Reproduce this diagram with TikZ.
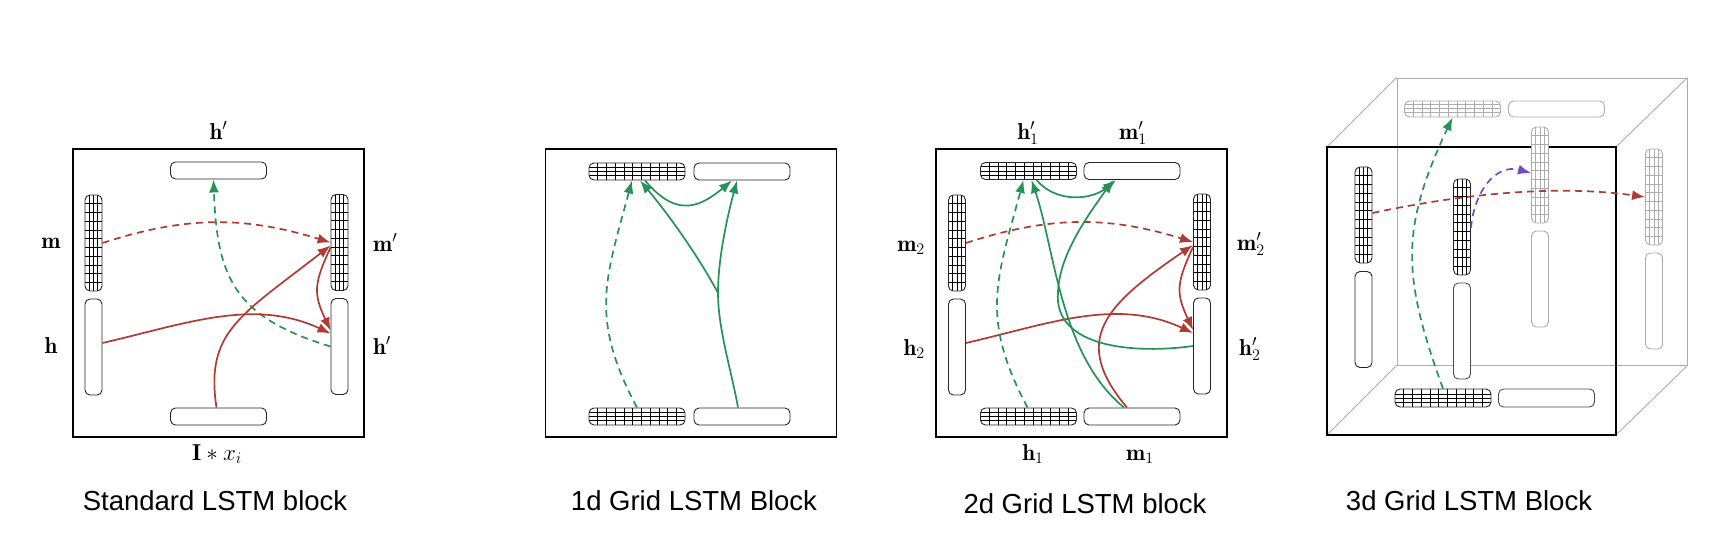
\RequirePackage{fix-cm}
\documentclass[tikz,border=0pt]{standalone}
\usepackage{fontspec}
\newfontfamily\capfont{Liberation Sans}
\usetikzlibrary{arrows.meta,calc}
\definecolor{redA}{RGB}{176,58,52}
\definecolor{greenA}{RGB}{38,146,88}
\definecolor{purpA}{RGB}{122,72,194}
\definecolor{grayL}{RGB}{172,172,172}
\tikzset{
  blk/.style={draw=black, line width=1.1pt, minimum width=291pt, minimum height=288pt, inner sep=0pt},
  bar/.style={draw=black!85, line width=0.9pt, rounded corners=5pt, fill=white, inner sep=0pt},
  hbar/.style={bar, minimum width=96pt, minimum height=17pt},
  vbar/.style={bar, minimum width=17pt, minimum height=96pt},
  ghost/.style={draw=grayL},
  gridv/.style={path picture={
     \foreach \k in {1,2,3}{\draw[line width=0.6pt,draw=#1] ([xshift=\k*4.25pt]path picture bounding box.south west) -- ([xshift=\k*4.25pt]path picture bounding box.north west);}
     \foreach \k in {1,...,10}{\draw[line width=0.6pt,draw=#1] ([yshift=\k*8.73pt]path picture bounding box.south west) -- ([yshift=\k*8.73pt]path picture bounding box.south east);}
  }},
  gridv/.default=black,
  gridh/.style={path picture={
     \foreach \k in {1,...,10}{\draw[line width=0.6pt,draw=#1] ([xshift=\k*8.73pt]path picture bounding box.south west) -- ([xshift=\k*8.73pt]path picture bounding box.north west);}
     \foreach \k in {1,2,3}{\draw[line width=0.6pt,draw=#1] ([yshift=\k*4.25pt]path picture bounding box.south west) -- ([yshift=\k*4.25pt]path picture bounding box.south east);}
  }},
  gridh/.default=black,
  lab/.style={font=\fontsize{23}{27}\selectfont, inner sep=0pt},
  captxt/.style={font=\capfont\fontsize{27.5}{32}\selectfont, inner sep=0pt, anchor=base},
  con/.style={line width=1.7pt, -{Latex[length=13pt,width=10pt]}},
  dsh/.style={dash pattern=on 7pt off 5pt},
  rd/.style={con, draw=redA},
  gr/.style={con, draw=greenA},
  pu/.style={con, draw=purpA},
  edge3d/.style={draw=grayL, line width=0.9pt},
}
\begin{document}
\begin{tikzpicture}[x=1pt,y=1pt]
\useasboundingbox (0,0) rectangle (1727,-552);

% ================= Panel 1: Standard LSTM block =================
\node[blk] (Abox) at (218.5,-293) {};
\node[hbar] (Atop) at (218.5,-170.5) {};
\node[hbar] (Abot) at (218.5,-416.5) {};
\node[vbar,gridv] (Am) at (93.5,-243) {};
\node[vbar] (Ah) at (93.5,-347) {};
\node[vbar,gridv] (Amp) at (339.5,-242.5) {};
\node[vbar] (Ahp) at (339.5,-346.5) {};

\node[lab,anchor=base] (AlTop) at (218.5,-139) {$\mathbf{h}'$};
\node[lab,anchor=base] (AlM) at (51,-248) {$\mathbf{m}$};
\node[lab,anchor=base] (AlH) at (51,-353) {$\mathbf{h}$};
\node[lab,anchor=base west] (AlMp) at (373,-251) {$\mathbf{m}'$};
\node[lab,anchor=base west] (AlHp) at (373,-354) {$\mathbf{h}'$};
\node[lab,anchor=base] (AlX) at (217,-460) {$\mathbf{I} * x_i$};

\draw[rd,dsh] (Am.east) to[out=18,in=163] (Amp.west);
\draw[gr,dsh] (Ahp.west) to[out=163,in=-88,looseness=1.25] ([xshift=-5pt]Atop.south);
\draw[rd] ([yshift=4pt]Ah.east) to[out=13,in=155,looseness=0.95] ([yshift=13pt]Ahp.west);
\draw[rd] ([xshift=-2pt]Abot.north) .. controls (205,-332) and (240,-316) .. ([yshift=-3pt]Amp.west);
\draw[rd] ([yshift=-5pt]Amp.west) to[out=-115,in=115,looseness=1.25] ([yshift=16pt]Ahp.west);

\node[captxt] (capA) at (215,-510) {Standard LSTM block};

% ================= Panel 2: 1d Grid LSTM Block =================
\node[blk] (Bbox) at (691,-293) {};
\node[hbar,gridh] (Btg) at (637,-171.5) {};
\node[hbar] (Btp) at (742,-171.5) {};
\node[hbar,gridh] (Bbg) at (637,-416.5) {};
\node[hbar] (Bbp) at (742,-416.5) {};
\coordinate (Bbr) at (718,-293);

\draw[gr,dsh] (Bbg.north) to[out=118,in=-105,looseness=1.15] ([xshift=-5pt]Btg.south);
\draw[line width=1.7pt,draw=greenA] ([xshift=-4pt]Bbp.north) to[out=100,in=-90,looseness=0.8] (Bbr);
\draw[gr] (Bbr) to[out=90,in=-105,looseness=0.8] ([xshift=-5pt]Btp.south);
\draw[gr] (Bbr) to[out=118,in=-50,looseness=0.8] ([xshift=3pt]Btg.south);
\draw[gr] ([xshift=8pt]Btg.south) to[out=-50,in=-140,looseness=1.35] ([xshift=-10pt]Btp.south);

\node[captxt] (capB) at (694,-510) {1d Grid LSTM Block};

% ================= Panel 3: 2d Grid LSTM block =================
\node[blk] (Cbox) at (1081.5,-293) {};
\node[hbar,gridh] (Ctg) at (1028.5,-171) {};
\node[hbar] (Ctp) at (1132,-171) {};
\node[hbar,gridh] (Cbg) at (1028.5,-416.5) {};
\node[hbar] (Cbp) at (1132,-416.5) {};
\node[vbar,gridv] (Cm2) at (957,-243) {};
\node[vbar] (Ch2) at (957,-347) {};
\node[vbar,gridv] (Cm2p) at (1202,-242) {};
\node[vbar] (Ch2p) at (1202,-346) {};
\coordinate (Cmg) at (1058,-292);

\node[lab,anchor=base] (ClH1p) at (1028,-139) {$\mathbf{h}'_1$};
\node[lab,anchor=base] (ClM1p) at (1133,-139) {$\mathbf{m}'_1$};
\node[lab,anchor=base east] (ClM2) at (925,-251) {$\mathbf{m}_2$};
\node[lab,anchor=base east] (ClH2) at (925,-355) {$\mathbf{h}_2$};
\node[lab,anchor=base west] (ClM2p) at (1237,-250) {$\mathbf{m}'_2$};
\node[lab,anchor=base west] (ClH2p) at (1239,-355) {$\mathbf{h}'_2$};
\node[lab,anchor=base] (ClH1) at (1033,-460) {$\mathbf{h}_1$};
\node[lab,anchor=base] (ClM1) at (1140,-460) {$\mathbf{m}_1$};

% red (dimension 2)
\draw[rd,dsh] (Cm2.east) to[out=18,in=163] (Cm2p.west);
\draw[rd] ([yshift=4pt]Ch2.east) to[out=13,in=155,looseness=0.95] ([yshift=13pt]Ch2p.west);
\draw[rd] ([xshift=-5pt]Cbp.north) .. controls (1070,-340) and (1105,-305) .. ([yshift=-3pt]Cm2p.west);
\draw[rd] ([yshift=-5pt]Cm2p.west) to[out=-115,in=115,looseness=1.25] ([yshift=16pt]Ch2p.west);
% green (dimension 1)
\draw[gr,dsh] ([xshift=-1pt]Cbg.north) to[out=118,in=-105,looseness=1.15] ([xshift=-5pt]Ctg.south);
\draw[gr] ([xshift=8pt]Ctg.south) to[out=-50,in=-140,looseness=1] ([xshift=-16pt]Ctp.south);
\draw[gr] ([xshift=-8pt]Cbp.north) .. controls (1060,-355) and (1055,-250) .. ([xshift=3pt]Ctg.south);
\draw[line width=1.7pt,draw=greenA] (Ch2p.west) to[out=188,in=-95,looseness=1] (Cmg);
\draw[gr] (Cmg) to[out=88,in=-125,looseness=0.8] ([xshift=-19pt]Ctp.south);

\node[captxt] (capC) at (1085,-513) {2d Grid LSTM block};

% ================= Panel 4: 3d Grid LSTM Block =================
\node[blk,draw=grayL,line width=0.9pt,minimum width=290pt,minimum height=287pt] (Dback) at (1542,-221.5) {};
\draw[edge3d] (Dback.north west) -- (1327,-147);
\draw[edge3d] (Dback.north east) -- (1616,-147);
\draw[edge3d] (Dback.south east) -- (1616,-435);
\draw[edge3d] (Dback.south west) -- (1327,-435);
\node[blk,minimum width=289pt,minimum height=288pt] (Dfront) at (1471.5,-291) {};

% back (gray) elements
\node[hbar,ghost,gridh=grayL,minimum height=16pt] (Dtg) at (1452.5,-109) {};
\node[hbar,ghost,minimum height=16pt] (Dtp) at (1556.5,-109) {};
\node[vbar,ghost,gridv=grayL] (Dvg) at (1540,-175) {};
\node[vbar,ghost] (Dvp) at (1540,-279) {};
\node[vbar,ghost,gridv=grayL] (Drg) at (1654,-197) {};
\node[vbar,ghost] (Drp) at (1654,-301) {};
% front elements
\node[vbar,gridv] (Dlg) at (1363.5,-215) {};
\node[vbar] (Dlp) at (1363.5,-319.5) {};
\node[vbar,gridv] (Dmg) at (1462,-227) {};
\node[vbar,draw=black!70] (Dmp) at (1462,-331) {};
\node[hbar,gridh,minimum height=18pt] (Dbg) at (1443,-398) {};
\node[hbar,draw=black!70,minimum height=18pt] (Dbp) at (1546.5,-398) {};

\draw[gr,dsh] (Dbg.north) to[out=110,in=-115,looseness=1.15] (Dtg.south);
\draw[rd,dsh] ([yshift=2pt]Dlg.east) to[out=12,in=172,looseness=0.85] (Drg.west);
\draw[pu,dsh] ([yshift=-1pt]Dmg.east) to[out=85,in=165,looseness=1.15] ([yshift=2pt]Dvg.west);

\node[captxt] (capD) at (1469,-510) {3d Grid LSTM Block};
\end{tikzpicture}
\end{document}
